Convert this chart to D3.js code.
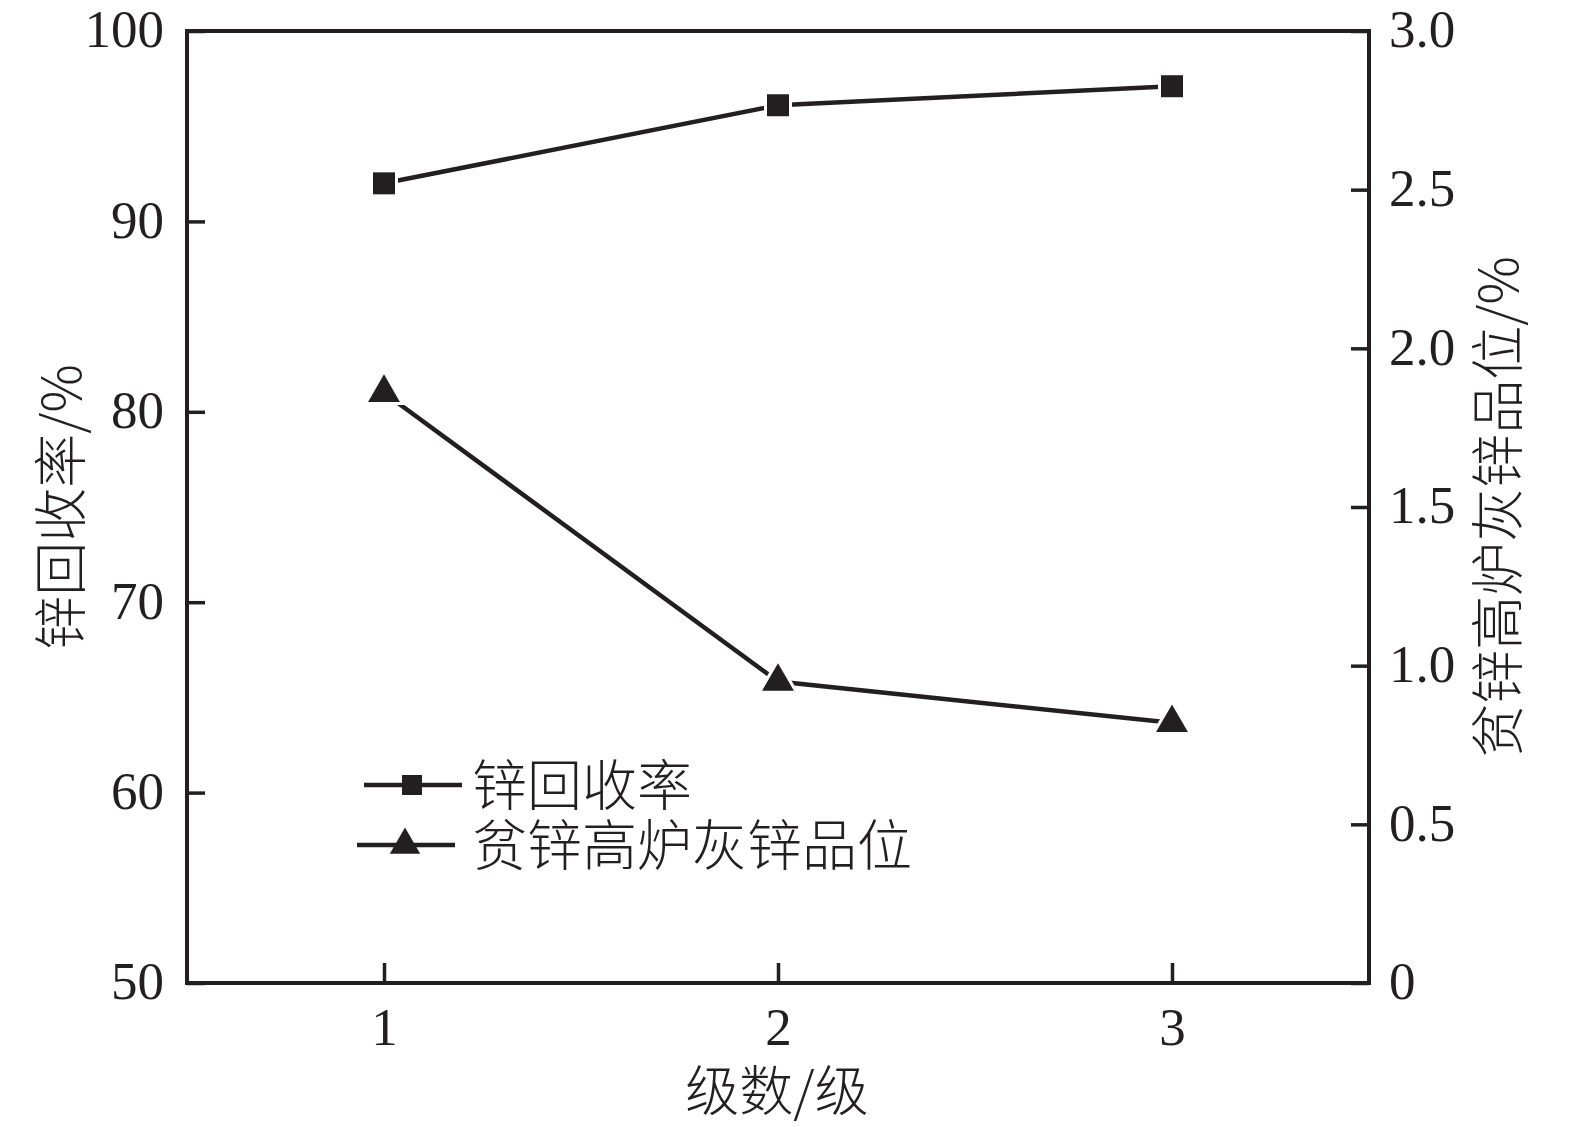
<!DOCTYPE html>
<html><head><meta charset="utf-8">
<script src="https://cdn.jsdelivr.net/npm/d3@7"></script>
<style>body{margin:0;background:#fff}</style>
</head><body>
<svg id="c" width="1575" height="1127"></svg>
<script>
const stages = [1, 2, 3];
const recovery = [92.0, 96.1, 97.1];
const grade = [1.86, 0.95, 0.82];
const leftTicks = [50, 60, 70, 80, 90, 100];
const rightTicks = [0, 0.5, 1.0, 1.5, 2.0, 2.5, 3.0];
const rightTickLabels = ["0", "0.5", "1.0", "1.5", "2.0", "2.5", "3.0"];
const seriesNames = ["锌回收率", "贫锌高炉灰锌品位"];

const svg = d3.select("#c");
const L = 187, R = 1369, T = 31, B = 983;
const ink = "#231f20";
const x = d3.scaleLinear().domain([0.5, 3.5]).range([L, R]);
const yL = d3.scaleLinear().domain([50, 100]).range([B, T]);
const yR = d3.scaleLinear().domain([0, 3]).range([B, T]);
const serif = "'Liberation Serif','Times New Roman',serif";
const cjk = "'Noto Sans CJK SC',sans-serif";

function styleAxis(g){
  g.select(".domain").remove();
  g.selectAll(".tick line").attr("stroke", ink).attr("stroke-width", 3.5);
  g.selectAll(".tick text").attr("fill", ink).style("font-family", serif).style("font-size", "53px");
}
svg.append("g").attr("transform",`translate(${L},0)`)
  .call(d3.axisLeft(yL).tickValues(leftTicks).tickSizeInner(-18).tickPadding(23).tickFormat(d3.format("d")))
  .call(styleAxis).selectAll(".tick text").attr("dy","0.3em");
svg.append("g").attr("transform",`translate(${R},0)`)
  .call(d3.axisRight(yR).tickValues(rightTicks).tickSizeInner(-18).tickPadding(20).tickFormat((d,i)=>rightTickLabels[i]))
  .call(styleAxis).selectAll(".tick text").attr("dy","0.3em");
svg.append("g").attr("transform",`translate(0,${B})`)
  .call(d3.axisBottom(x).tickValues(stages).tickSizeInner(-20).tickPadding(40).tickFormat(d3.format("d")))
  .call(styleAxis).selectAll(".tick text").attr("y", 62).attr("dy","0");

svg.append("rect").attr("x",L).attr("y",T).attr("width",R-L).attr("height",B-T)
  .attr("fill","none").attr("stroke",ink).attr("stroke-width",4);

const line1 = d3.line().x((d,i)=>x(stages[i])).y(d=>yL(d));
const line2 = d3.line().x((d,i)=>x(stages[i])).y(d=>yR(d));
svg.append("path").attr("d", line1(recovery)).attr("fill","none").attr("stroke",ink).attr("stroke-width",4.5);
svg.append("path").attr("d", line2(grade)).attr("fill","none").attr("stroke",ink).attr("stroke-width",4.5);

const sq = d3.symbol().type(d3.symbolSquare).size(22*22);
const tri = d3.symbol().type(d3.symbolTriangle).size(440);
svg.selectAll(".m1").data(recovery).join("path")
  .attr("transform",(d,i)=>`translate(${x(stages[i])},${yL(d)})`)
  .attr("d", sq).attr("fill",ink).attr("stroke","#fff").attr("stroke-width",6).attr("paint-order","stroke");
svg.selectAll(".m2").data(grade).join("path")
  .attr("transform",(d,i)=>`translate(${x(stages[i])},${yR(d)})`)
  .attr("d", tri).attr("fill",ink).attr("stroke","#fff").attr("stroke-width",6).attr("paint-order","stroke");

// legend
const sqL = d3.symbol().type(d3.symbolSquare).size(20*20);
const triL = d3.symbol().type(d3.symbolTriangle).size(400);
const legend = [
  {name: seriesNames[0], sym: sqL, x0: 364, x1: 462, xm: 412, y: 785},
  {name: seriesNames[1], sym: triL, x0: 357, x1: 455, xm: 405, y: 845}
];
legend.forEach(l=>{
  svg.append("line").attr("x1",l.x0).attr("x2",l.x1).attr("y1",l.y).attr("y2",l.y).attr("stroke",ink).attr("stroke-width",4.5);
  svg.append("path").attr("transform",`translate(${l.xm},${l.y})`).attr("d", l.sym).attr("fill",ink);
  svg.append("text").attr("x",472).attr("y",l.y).attr("dy","0.36em").text(l.name)
    .style("font-family",cjk).style("font-size","55px").style("font-weight","300").attr("fill",ink);
});

// axis titles
svg.append("text").attr("transform","translate(62,507) rotate(-90)").attr("text-anchor","middle").attr("dy","0.36em")
  .text("锌回收率/%").style("font-family",cjk).style("font-size","54px").style("font-weight","300").attr("fill",ink);
svg.append("text").attr("transform","translate(1499,507) rotate(-90)").attr("text-anchor","middle").attr("dy","0.36em")
  .text("贫锌高炉灰锌品位/%").style("font-family",cjk).style("font-size","54px").style("font-weight","300").attr("fill",ink);
svg.append("text").attr("x",777).attr("y",1092).attr("text-anchor","middle").attr("dy","0.36em")
  .text("级数/级").style("font-family",cjk).style("font-size","54px").style("font-weight","300").attr("fill",ink);
</script>
</body></html>
